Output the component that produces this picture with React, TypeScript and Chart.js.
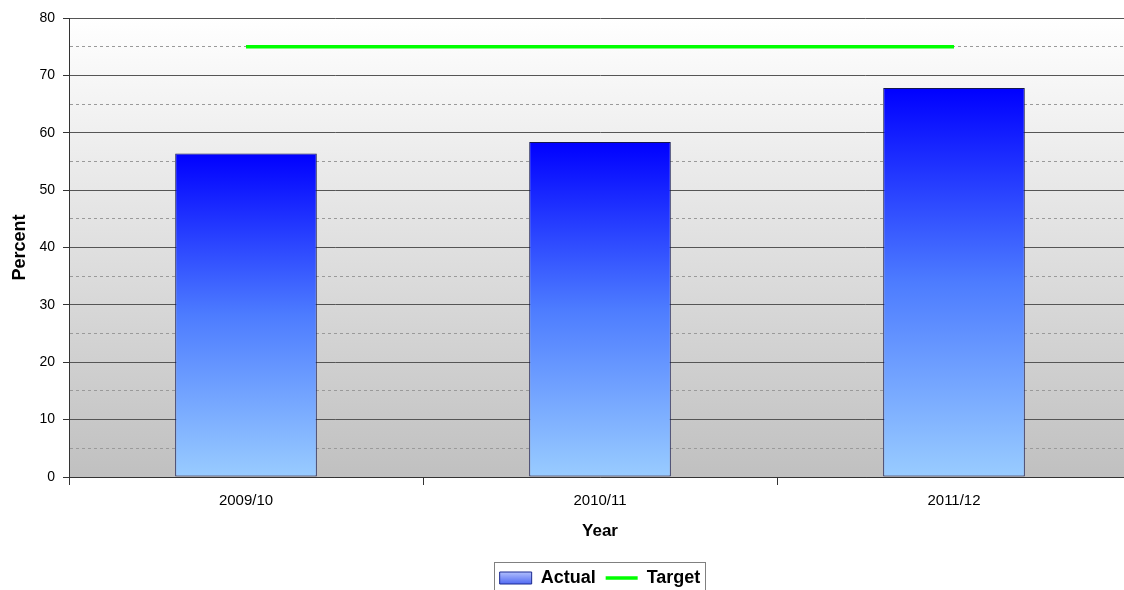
import React, { useEffect, useRef } from 'react';
import { Chart, registerables } from 'chart.js';

Chart.register(...registerables);

const categories = ['2009/10', '2010/11', '2011/12'];
const actualValues = [56.4, 58.4, 67.8];
const targetValues = [75, 75, 75];
const yMin = 0;
const yMax = 80;
const yStep = 5;
const yLabelStep = 10;

const FONT = '"Liberation Sans", Arial, sans-serif';
const CANVAS_W = 1131;
const CANVAS_H = 597;

const bgPlugin = {
  id: 'plotBg',
  beforeDraw(chart: any) {
    const { ctx, chartArea } = chart;
    if (!chartArea) return;
    const g = ctx.createLinearGradient(0, chartArea.top, 0, chartArea.bottom);
    g.addColorStop(0, '#ffffff');
    g.addColorStop(1, '#c0c0c0');
    ctx.save();
    ctx.fillStyle = g;
    ctx.fillRect(chartArea.left, chartArea.top, chartArea.right - chartArea.left, chartArea.bottom - chartArea.top);
    ctx.restore();
    const lg = chart.legend;
    if (lg && lg.legendHitBoxes && lg.legendHitBoxes.length && lg.legendItems) {
      const hb = lg.legendHitBoxes[0];
      const sg = ctx.createLinearGradient(0, hb.top, 0, hb.top + hb.height);
      sg.addColorStop(0, '#c8d4ff');
      sg.addColorStop(1, '#3a55f0');
      lg.legendItems[0].fillStyle = sg;
    }
  },
  afterDraw(chart: any) {
    const lg = chart.legend;
    if (!lg || !lg.legendHitBoxes || !lg.legendHitBoxes.length) return;
    const boxes = lg.legendHitBoxes;
    let l = Infinity, r = -Infinity, t = Infinity, b = -Infinity;
    boxes.forEach((h: any) => {
      l = Math.min(l, h.left);
      r = Math.max(r, h.left + h.width);
      t = Math.min(t, h.top);
      b = Math.max(b, h.top + h.height);
    });
    const { ctx } = chart;
    ctx.save();
    ctx.strokeStyle = '#808080';
    ctx.lineWidth = 1;
    ctx.strokeRect(Math.round(l - 6) + 0.5, Math.round(t - 7) + 0.5, Math.round(r - l + 10), Math.round(b - t + 16));
    ctx.restore();
  },
};

export default function App() {
  const ref = useRef<HTMLCanvasElement | null>(null);

  useEffect(() => {
    if (!ref.current) return;
    const chart = new Chart(ref.current, {
      type: 'bar',
      data: {
        labels: categories,
        datasets: [
          {
            type: 'bar',
            label: 'Actual',
            data: actualValues,
            backgroundColor: (c: any) => {
              const chartObj = c.chart;
              const ys = chartObj.scales && chartObj.scales.y;
              if (!ys || c.raw == null) return '#4060ff';
              const top = ys.getPixelForValue(c.raw);
              const base = ys.getPixelForValue(0);
              const g = chartObj.ctx.createLinearGradient(0, top, 0, base);
              g.addColorStop(0, '#0000ff');
              g.addColorStop(0.5, '#4d7cff');
              g.addColorStop(1, '#99ccff');
              return g;
            },
            borderColor: '#141850',
            borderWidth: 1,
            borderSkipped: false,
            categoryPercentage: 1,
            barPercentage: 0.4,
            order: 2,
          },
          {
            type: 'line',
            label: 'Target',
            data: targetValues,
            borderColor: '#00ff00',
            backgroundColor: '#00ff00',
            borderWidth: 3.5,
            pointRadius: 0,
            fill: false,
            order: 1,
          },
        ],
      },
      options: {
        responsive: false,
        animation: false,
        layout: { padding: { top: 18, right: 0, left: 0, bottom: 0 } },
        plugins: {
          tooltip: { enabled: false },
          legend: {
            position: 'bottom',
            fullSize: false,
            labels: {
              font: { family: FONT, size: 18, weight: 'bold' },
              color: '#000',
              usePointStyle: true,
              pointStyleWidth: 32,
              boxHeight: 12,
              padding: 10,
              generateLabels: () => [
                {
                  text: 'Actual',
                  fillStyle: '#6a86f5',
                  strokeStyle: '#1c2a90',
                  lineWidth: 1,
                  pointStyle: 'rect',
                  datasetIndex: 0,
                  hidden: false,
                },
                {
                  text: 'Target',
                  fillStyle: '#00ff00',
                  strokeStyle: '#00ff00',
                  lineWidth: 3.5,
                  pointStyle: 'line',
                  datasetIndex: 1,
                  hidden: false,
                },
              ],
            },
          },
        },
        scales: {
          x: {
            afterFit: (s: any) => {
              s.height = 82;
            },
            grid: {
              offset: true,
              drawOnChartArea: false,
              drawTicks: true,
              tickLength: 8,
              tickColor: '#333',
              color: '#333',
            },
            border: { display: true, color: '#333', width: 1 },
            ticks: {
              font: { family: FONT, size: 15 },
              color: '#000',
              padding: 7,
            },
            title: {
              display: true,
              text: 'Year',
              font: { family: FONT, size: 17, weight: 'bold' },
              color: '#000',
              padding: { top: 5, bottom: 17 },
            },
          },
          y: {
            min: yMin,
            max: yMax,
            afterFit: (s: any) => {
              s.width = 69;
            },
            ticks: {
              stepSize: yStep,
              autoSkip: false,
              font: { family: FONT, size: 14 },
              color: '#000',
              padding: 8,
              callback: (v: any) => (Number(v) % yLabelStep === 0 ? String(v) : ''),
            },
            grid: {
              color: (c: any) => (c.tick && c.tick.value % yLabelStep !== 0 ? '#9a9a9a' : '#555'),
              tickColor: (c: any) => (c.tick && c.tick.value % yLabelStep !== 0 ? 'rgba(0,0,0,0)' : '#333'),
              tickLength: 6,
              lineWidth: 1,
            },
            border: {
              display: true,
              color: '#333',
              width: 1,
              dash: (c: any) => (c.tick && c.tick.value % yLabelStep !== 0 ? [3, 3] : []),
            },
            title: {
              display: true,
              text: 'Percent',
              font: { family: FONT, size: 18, weight: 'bold' },
              color: '#000',
              padding: { top: 9, bottom: 0 },
            },
          },
        },
      },
      plugins: [bgPlugin],
    } as any);
    return () => chart.destroy();
  }, []);

  return (
    <div style={{ position: 'absolute', left: 0, top: 0, width: 1124, height: 590, overflow: 'hidden' }}>
      <canvas ref={ref} width={CANVAS_W} height={CANVAS_H} style={{ width: CANVAS_W, height: CANVAS_H, display: 'block' }} />
    </div>
  );
}
